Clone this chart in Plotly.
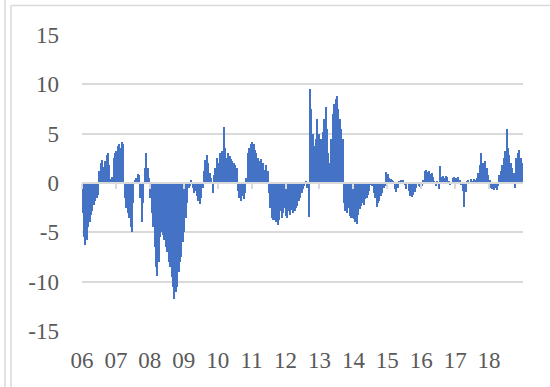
import plotly.graph_objects as go

year_labels = ["06", "07", "08", "09", "10", "11", "12", "13", "14", "15", "16", "17", "18"]
first_year = 2006
steps_per_year = 24  # half-monthly observations

v2006 = [-3.0, -5.5, -6.3, -5.8, -4.5, -4.0, -3.2, -2.8, -2.2, -1.8, -1.5, -1.2,
         1.2, 2.0, 2.3, 1.6, 2.2, 2.8, 3.0, 1.8, 0.4, 0.6, 2.5, 3.0]
v2007 = [3.2, 3.8, 4.0, 3.5, 4.2, 4.0, -1.5, -2.5, -3.0, -3.5, -4.5, -5.0,
         -2.0, 0.3, 0.5, 0.9, 0.8, -1.5, -4.0, -2.0, 1.5, 3.0, 1.5, 0.5]
v2008 = [-1.5, -3.0, -4.5, -6.5, -8.5, -9.4, -8.0, -5.5, -5.0, -5.3, -5.8, -6.5,
         -7.0, -8.0, -8.5, -9.5, -10.5, -11.8, -11.0, -10.5, -9.0, -8.0, -7.5, -6.0]
v2009 = [-5.0, -3.5, -2.0, -0.5, -0.3, 0.3, -0.5, -1.0, -0.8, -1.3, -1.8, -2.1,
         -1.5, -0.5, 1.2, 2.3, 2.8, 2.0, 1.0, 0.5, -1.0, 0.8, 1.5, 2.5]
v2010 = [2.0, 3.0, 2.2, 3.2, 5.7, 3.5, 2.5, 3.0, 2.7, 2.4, 2.2, 2.0,
         1.8, 1.5, -0.8, -1.5, -1.8, -1.3, -1.6, -1.0, 0.5, 3.0, 3.5, 4.0]
v2011 = [4.2, 4.0, 3.3, 3.0, 2.5, 2.2, 2.4, 1.6, 2.0, 1.3, 1.8, 1.2,
         -1.0, -2.5, -3.5, -3.8, -3.8, -4.0, -4.3, -3.8, -2.8, -3.5, -3.0, -2.5]
v2012 = [-3.3, -3.5, -2.8, -3.2, -2.7, -3.0, -2.8, -2.5, -2.3, -1.8, -1.5, -1.0,
         -0.6, -0.3, 0.2, -0.5, -3.4, 9.5, 7.5, 5.0, 3.8, 4.5, 6.5, 5.0]
v2013 = [3.5, 4.5, 5.2, 6.5, 7.7, 5.5, 3.0, 2.0, 4.5, 7.0, 8.0, 8.5,
         8.8, 7.5, 6.5, 5.5, 4.5, -2.0, -2.8, -3.0, -2.5, -3.3, -3.5, -3.5]
v2014 = [-3.6, -4.0, -4.2, -3.2, -2.6, -2.3, -2.0, -2.2, -1.6, -1.5, -1.2, -0.8,
         -0.2, -0.3, -1.0, -1.5, -2.4, -2.0, -1.8, -1.3, -1.0, -0.5, -0.3, 1.1]
v2015 = [0.9, 0.5, 0.4, 0.3, 0.2, -0.6, -0.9, -0.5, 0.2, 0.3, 0.1, 0.3,
         -0.2, -0.6, 0.1, -0.8, -1.3, -1.4, -1.2, -0.9, -0.5, -0.1, -0.3, -0.4]
v2016 = [-0.3, 0.3, 1.2, 1.3, 1.1, 1.2, 0.9, 1.0, 0.6, 0.2, -0.3, 0.2,
         -0.6, 1.7, 0.6, 0.7, 0.5, 0.7, 0.6, 0.2, -0.2, 0.1, 0.5, 0.6]
v2017 = [0.5, 0.4, 0.6, 0.3, -0.2, -0.8, -2.4, -0.9, 0.2, 0.3, 0.1, 0.4,
         0.2, 0.4, 0.3, 0.5, 1.0, 1.8, 3.0, 2.0, 1.3, 2.2, 1.5, 0.8]
v2018 = [0.3, -0.5, -0.6, -0.7, -0.5, -0.7, -0.3, 0.8, 1.2, 1.8, 2.5, 3.2,
         5.5, 3.5, 2.8, 2.0, 1.5, 1.0, -0.5, 2.5, 3.0, 3.3, 2.5, 2.0]

y_ticks = [-15, -10, -5, 0, 5, 10, 15]
y_tick_labels = ["-15", "-10", "-5", "0", "5", "10", "15"]

series = [v2006, v2007, v2008, v2009, v2010, v2011, v2012, v2013,
          v2014, v2015, v2016, v2017, v2018]
values = [v for yr in series for v in yr]
xpos = [first_year + (i + 0.5) / steps_per_year for i in range(len(values))]
year_ticks = [first_year + k for k in range(len(year_labels))]
x_range = [first_year, first_year + len(year_labels)]

BLUE = "#4472C4"
GRID = "#d9d9d9"
TEXT = "#595959"
FONT = '"Liberation Serif", "Times New Roman", "DejaVu Serif", serif'
FSIZE = 23

PLOT_TOP = 35.4
PLOT_H = 295.2
border_y = 1.0 + (PLOT_TOP - 6) / PLOT_H

fig = go.Figure()
fig.add_trace(go.Bar(x=xpos, y=values, marker=dict(color=BLUE, line=dict(width=0)),
                     width=1.0 / steps_per_year, showlegend=False, hoverinfo="skip"))
fig.add_trace(go.Scatter(x=[x_range[0]], y=[None], xaxis="x2", mode="markers",
                         showlegend=False, hoverinfo="skip"))

fig.update_layout(
    width=550, height=387,
    margin=dict(l=82, r=27, t=35, b=56, autoexpand=False),
    paper_bgcolor="white", plot_bgcolor="white",
    bargap=0,
    font=dict(family=FONT, color=TEXT, size=FSIZE),
    xaxis=dict(range=x_range, tickvals=year_ticks, ticktext=year_labels,
               showgrid=False, zeroline=False, showline=False, ticks="",
               automargin=False, ticklabelstandoff=13,
               tickfont=dict(size=FSIZE, family=FONT, color=TEXT)),
    xaxis2=dict(range=x_range, overlaying="x", anchor="free", position=0.5,
                tickvals=year_ticks, showticklabels=False, ticks="outside",
                ticklen=5, tickwidth=1.5, tickcolor=GRID, showline=True,
                linecolor=GRID, linewidth=1.5, showgrid=False, zeroline=False,
                automargin=False),
    yaxis=dict(range=[-15, 15], tickvals=y_ticks, ticktext=y_tick_labels,
               showgrid=True, gridcolor=GRID,
               gridwidth=1.5, zeroline=False, showline=False, ticks="",
               automargin=False, ticklabelstandoff=22,
               tickfont=dict(size=FSIZE, family=FONT, color=TEXT)),
    shapes=[
        dict(type="line", xref="paper", yref="paper", x0=-0.1746, x1=-0.1746,
             y0=-1, y1=2, line=dict(color=GRID, width=1.5)),
        dict(type="line", xref="paper", yref="paper", x0=-0.1610, x1=-0.1610,
             y0=-1, y1=border_y, line=dict(color=GRID, width=1.5)),
        dict(type="line", xref="paper", yref="paper", x0=-0.1610, x1=1.2,
             y0=border_y, y1=border_y, line=dict(color=GRID, width=1.5)),
    ],
)

fig.write_html("out.html", config={"displayModeBar": False},
               post_script="document.body.style.margin='0';document.body.style.overflow='hidden';")
